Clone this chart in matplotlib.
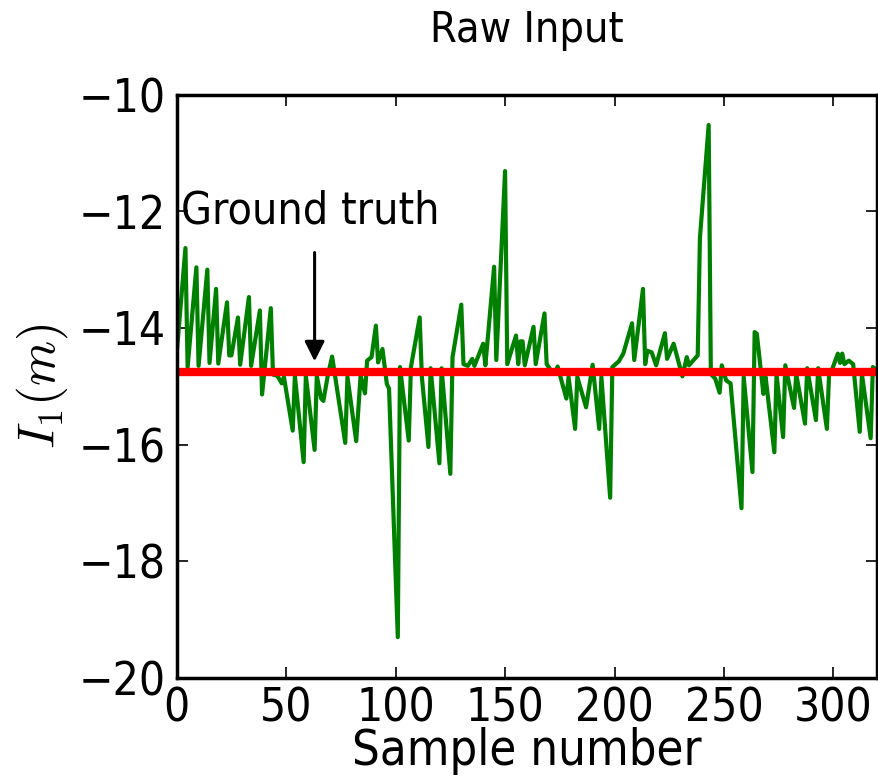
import numpy as np
import matplotlib
matplotlib.use("Agg")
import matplotlib.pyplot as plt

# raw measurements (sample index, value)
sample_idx = [0, 4, 5, 9, 10, 14, 15, 18, 19, 23, 24, 25, 28, 29, 33, 34, 38, 39,
              43, 44, 46, 48, 49, 53, 54, 58, 59, 63, 64, 66, 67, 69, 71, 77, 78,
              82, 84, 86, 87, 89, 91, 92, 94, 96, 97, 101, 102, 106, 107, 111,
              112, 115, 116, 120, 121, 125, 126, 130, 131, 133, 135, 136, 140,
              141, 142, 145, 146, 150, 151, 155, 156, 157, 158, 159, 163, 164,
              168, 169, 171, 173, 174, 178, 179, 182, 183, 187, 190, 193, 194,
              198, 199, 202, 204, 208, 209, 213, 214, 215, 217, 219, 223, 224,
              227, 231, 233, 234, 238, 239, 243, 244, 246, 248, 249, 251, 253,
              258, 259, 263, 264, 265, 268, 269, 273, 274, 277, 278, 282, 283,
              287, 288, 292, 293, 297, 298, 299, 302, 303, 304, 305, 307, 309,
              312, 313, 317, 318, 319]
raw_vals = [-14.44, -12.63, -14.67, -12.96, -14.65, -13.0, -14.6, -13.33, -14.61,
            -13.56, -14.47, -14.47, -13.82, -14.63, -13.47, -14.65, -13.70, -15.14,
            -13.66, -14.8, -14.82, -14.95, -14.84, -15.76, -14.82, -16.30, -14.82,
            -16.09, -14.82, -15.21, -15.25, -14.82, -14.49, -15.97, -14.84,
            -15.94, -14.82, -15.12, -14.56, -14.5, -13.96, -14.59, -14.36, -14.96,
            -15.04, -19.30, -14.67, -15.93, -14.67, -13.82,
            -14.84, -16.04, -14.69, -16.32, -14.69, -16.5, -14.50, -13.60, -14.62,
            -14.65, -14.53, -14.65, -14.27,
            -14.64, -14.22, -12.95, -14.55, -11.31, -14.62, -14.13, -14.62, -14.23,
            -14.23, -14.64, -13.98, -14.62,
            -13.75, -14.62, -14.73, -14.78, -14.66, -15.21, -14.84, -15.73, -14.84,
            -15.36, -14.63, -15.73, -14.84,
            -16.91, -14.67, -14.57, -14.44, -13.92, -14.55, -13.33, -14.62, -14.39,
            -14.42, -14.64, -14.09, -14.53,
            -14.27, -14.83, -14.50, -14.64, -14.47, -12.46, -10.52, -14.79, -14.87,
            -15.11, -14.64, -14.9, -14.95,
            -17.09, -14.84, -16.47, -14.07, -14.10, -15.13, -14.84, -16.13, -14.79,
            -15.87, -14.64, -15.37, -14.79,
            -15.64, -14.69, -15.58, -14.69, -15.73, -14.79, -14.75, -14.44, -14.6,
            -14.44, -14.62, -14.56, -14.62,
            -15.78, -14.79, -15.89, -14.67, -14.7]
ground_truth = -14.75

plt.rcParams['font.family'] = 'DejaVu Sans'
plt.rcParams['font.stretch'] = 'condensed'
plt.rcParams['mathtext.fontset'] = 'cm'
fig = plt.figure(figsize=(8.79, 7.82), dpi=100)
ax = fig.add_axes([0.201, 0.133, 0.797, 0.746])

ax.plot(sample_idx, raw_vals, color='g', lw=3)
ax.axhline(ground_truth, color='r', lw=6)

ax.text(61, -12.0, 'Ground truth', fontsize=32, ha='center', va='center')
ax.annotate('', xy=(63, -14.62), xytext=(63, -12.66),
            arrowprops=dict(arrowstyle='-|>', color='k', lw=2.2, mutation_scale=30))

ax.set_xlim(0, 320)
ax.set_ylim(-20, -10)
ax.set_xticks(np.arange(0, 301, 50))
ax.set_yticks(np.arange(-20, -9, 2))
ax.tick_params(direction='in', top=True, right=True, length=8, width=1.2,
               labelsize=33)
ax.tick_params(axis='x', pad=6)
ax.tick_params(axis='y', pad=8)
for s in ax.spines.values():
    s.set_linewidth(2.5)

ax.set_title('Raw Input', fontsize=31, pad=38)
ax.set_xlabel('Sample number', fontsize=35, labelpad=-3)
ax.set_ylabel(r'$I_1(m)$', fontsize=37, labelpad=6)

fig.savefig('out.png', dpi=100)
